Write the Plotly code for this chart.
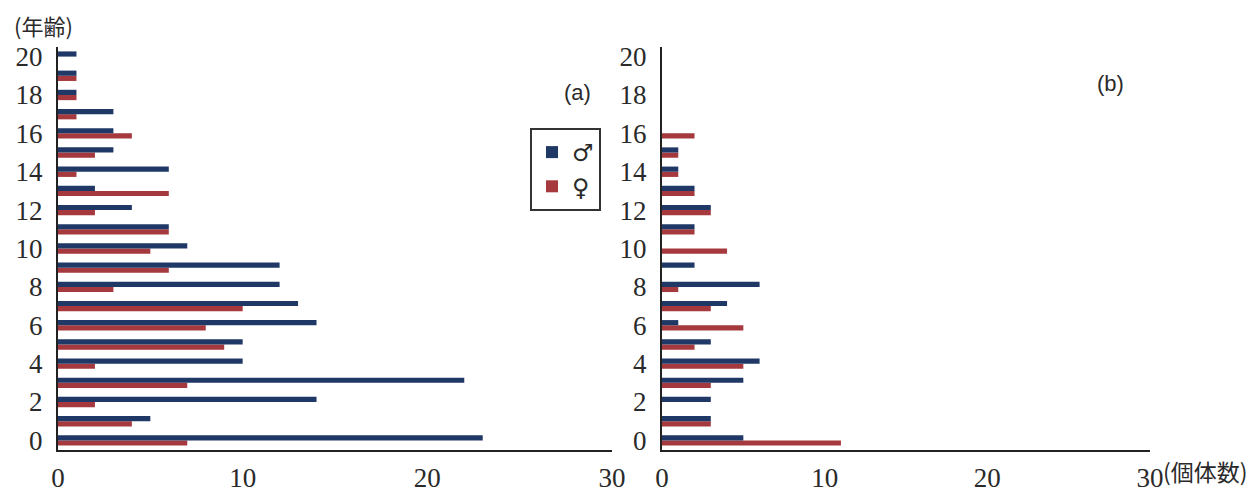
import plotly.graph_objects as go

ages = list(range(0, 21))
# panel (a)
male_a = [23, 5, 14, 22, 10, 10, 14, 13, 12, 12, 7, 6, 4, 2, 6, 3, 3, 3, 1, 1, 1]
female_a = [7, 4, 2, 7, 2, 9, 8, 10, 3, 6, 5, 6, 2, 6, 1, 2, 4, 1, 1, 1, 0]
# panel (b)
male_b = [5, 3, 3, 5, 6, 3, 1, 4, 6, 2, 0, 2, 3, 2, 1, 1, 0, 0, 0, 0, 0]
female_b = [11, 3, 0, 3, 5, 2, 5, 3, 1, 0, 4, 2, 3, 2, 1, 1, 2, 0, 0, 0, 0]

y_ticks = list(range(0, 21, 2))
x_ticks = [0, 10, 20, 30]

NAVY = "#1f3866"
RED = "#a6393d"
OFF = 8  # page body margin
W, H = 1255 - OFF, 495 - OFF


def px(X):
    return (X - OFF) / W


def py(Y):
    return 1 - (Y - OFF) / H


fig = go.Figure()
# female first so that male sits on top within each group
fig.add_trace(go.Bar(y=ages, x=female_a, orientation="h", marker_color=RED, name="♀",
                     legendrank=2, xaxis="x", yaxis="y", marker_line_width=0))
fig.add_trace(go.Bar(y=ages, x=male_a, orientation="h", marker_color=NAVY, name="♂",
                     legendrank=1, xaxis="x", yaxis="y", marker_line_width=0))
fig.add_trace(go.Bar(y=ages, x=female_b, orientation="h", marker_color=RED, name="♀",
                     showlegend=False, xaxis="x2", yaxis="y2", marker_line_width=0))
fig.add_trace(go.Bar(y=ages, x=male_b, orientation="h", marker_color=NAVY, name="♂",
                     showlegend=False, xaxis="x2", yaxis="y2", marker_line_width=0))

tickfont = dict(family="Liberation Serif", size=27, color="#2a2a2a")
ydom = [py(450), py(47)]


def xax(dom):
    return dict(domain=dom, range=[0, 30], tickvals=x_ticks, showgrid=False, zeroline=False,
                showline=True, linecolor="#222222", linewidth=2, ticks="",
                tickfont=tickfont, ticklabelstandoff=3, fixedrange=True, automargin=False)


def yax(anchor):
    return dict(domain=ydom, range=[-0.5, 20.5], tickvals=y_ticks, showgrid=False,
                zeroline=False, showline=True, linecolor="#222222", linewidth=2,
                ticks="", tickfont=tickfont, ticklabelstandoff=8, anchor=anchor,
                automargin=False)


fig.update_layout(
    width=W, height=H,
    margin=dict(l=0, r=0, t=0, b=0, autoexpand=False),
    paper_bgcolor="white", plot_bgcolor="white",
    barmode="group", bargap=0.46, bargroupgap=0,
    xaxis=dict(**xax([px(58), px(612)]), anchor="y"),
    yaxis=yax("x"),
    xaxis2=dict(**xax([px(662), px(1150)]), anchor="y2"),
    yaxis2=yax("x2"),
    legend=dict(x=px(530), y=py(128), xanchor="left", yanchor="top",
                bordercolor="#333333", borderwidth=2, bgcolor="white",
                font=dict(family="DejaVu Sans", size=24, color="#2a2a2a"),
                itemwidth=30, tracegroupgap=0),
    showlegend=True,
    annotations=[
        dict(text="(年齢)", x=px(12), y=py(25), xref="paper", yref="paper",
             xanchor="left", yanchor="middle", showarrow=False,
             font=dict(family="Noto Sans CJK JP", size=22, color="#2a2a2a")),
        dict(text="(a)", x=px(577), y=py(93), xref="paper", yref="paper",
             xanchor="center", yanchor="middle", showarrow=False,
             font=dict(family="Liberation Sans", size=22, color="#2a2a2a")),
        dict(text="(b)", x=px(1110), y=py(83), xref="paper", yref="paper",
             xanchor="center", yanchor="middle", showarrow=False,
             font=dict(family="Liberation Sans", size=22, color="#2a2a2a")),
        dict(text="(個体数)", x=px(1250), y=py(471), xref="paper", yref="paper",
             xanchor="right", yanchor="middle", showarrow=False,
             font=dict(family="Noto Sans CJK JP", size=23, color="#2a2a2a")),
    ],
)

fig.write_html("out.html")
